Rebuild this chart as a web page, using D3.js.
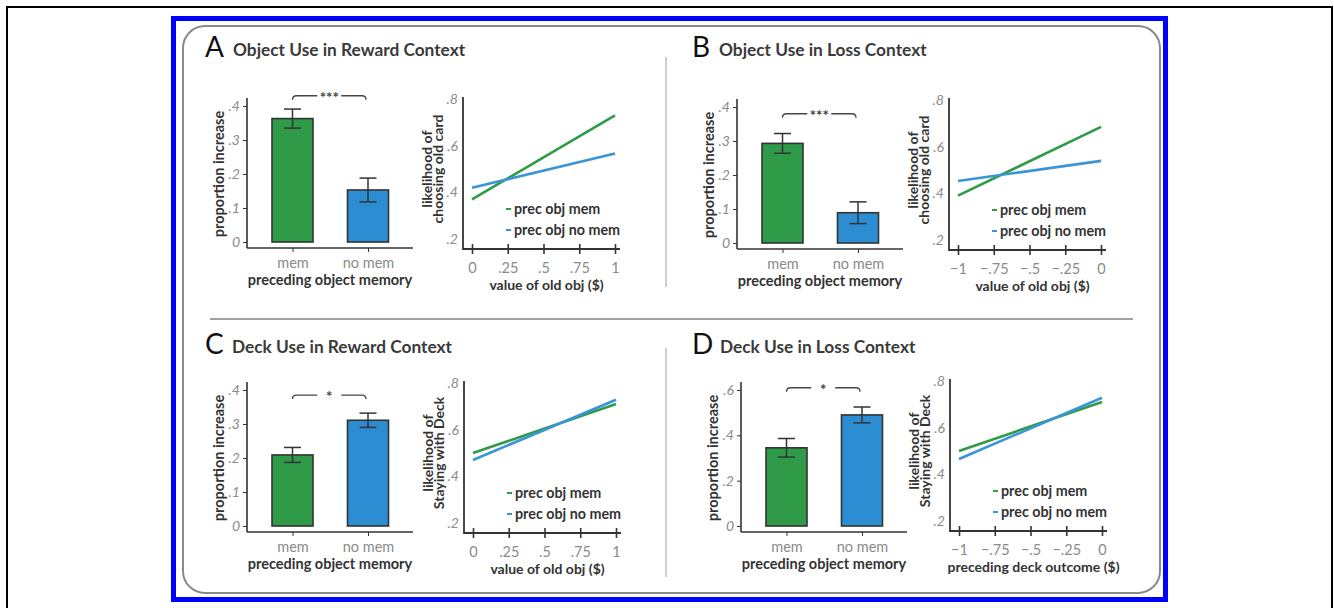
<!DOCTYPE html>
<html>
<head>
<meta charset="utf-8">
<script src="https://cdn.jsdelivr.net/npm/d3@7"></script>
<style>
body { margin: 0; background: #fff; }
text { font-family: Lato, "Open Sans", sans-serif; }
</style>
</head>
<body>
<svg id="fig"></svg>
<script>
// ---- data ----
const letters = ['A', 'B', 'C', 'D']
const titles = ['Object Use in Reward Context', 'Object Use in Loss Context',
                'Deck Use in Reward Context', 'Deck Use in Loss Context']
const barCats = ['mem', 'no mem']
const barMeans = [[0.363, 0.153], [0.293, 0.089], [0.209, 0.311], [0.345, 0.490]]
const barErrs = [[0.028, 0.035], [0.029, 0.032], [0.022, 0.021], [0.041, 0.035]]
const barMax = [0.4, 0.4, 0.4, 0.6]
const barTicks = [[0, .1, .2, .3, .4], [0, .1, .2, .3, .4], [0, .1, .2, .3, .4], [0, .2, .4, .6]]
const sigLabels = ['***', '***', '*', '*']
const sigLevel = [0.43, 0.38, 0.385, 0.61]

const xDomains = [[0, 1], [-1, 0], [0, 1], [-1, 0]]
const xTicksPos = [0, .25, .5, .75, 1]
const xTicksNeg = [-1, -.75, -.5, -.25, 0]
const xLabelsPos = ['0', '.25', '.5', '.75', '1']
const xLabelsNeg = ['\u22121', '\u2212.75', '\u2212.5', '\u2212.25', '0']
const lineYTicks = [.2, .4, .6, .8]
const lineYLabels = ['.2', '.4', '.6', '.8']
// line values at the left and right end of the x domain
const memLine = [[0.37, 0.73], [0.39, 0.685], [0.50, 0.71], [0.50, 0.71]]
const noMemLine = [[0.42, 0.566], [0.453, 0.539], [0.47, 0.728], [0.466, 0.728]]
const seriesNames = ['prec obj mem', 'prec obj no mem']
const lineYTitles = [['likelihood of', 'choosing old card'], ['likelihood of', 'choosing old card'],
                     ['likelihood of', 'Staying with Deck'], ['likelihood of', 'Staying with Deck']]
const lineXTitles = ['value of old obj ($)', 'value of old obj ($)',
                     'value of old obj ($)', 'preceding deck outcome ($)']

// ---- layout ----
const W = 1334, H = 608
const green = '#2f9a48', blue = '#2d8dd3'
const lineGreen = '#2e9b47', lineBlue = '#3a95d8'
const dark = '#333', tickGrey = '#8a8a8a', labelCol = '#333'

const barDx = [0, 490, 0, 494], barDy = [0, 1, 284, 284]
const lineDx = [0, 486, 1, 487], lineDy = [0, 1, 284, 282]
const letterX = [205, 692, 205, 692], titleX = [233, 719, 232, 720], titleY = [57, 57, 354, 354]

let svg = d3.select('#fig').attr('width', W).attr('height', H)

svg.append('rect').attr('width', W).attr('height', H).attr('fill', '#fff')
// outer black frame (bottom edge is off the picture)
svg.append('rect').attr('x', 7).attr('y', 7).attr('width', 1325).attr('height', 640)
  .attr('fill', 'none').attr('stroke', '#000').attr('stroke-width', 2)
// blue frame
svg.append('rect').attr('x', 173.5).attr('y', 18.5).attr('width', 992).attr('height', 581)
  .attr('fill', 'none').attr('stroke', '#0000ff').attr('stroke-width', 5)
// rounded grey panel
svg.append('rect').attr('x', 183).attr('y', 26).attr('width', 977).attr('height', 567)
  .attr('rx', 22).attr('fill', '#fff').attr('stroke', '#8a8a8a').attr('stroke-width', 2)

// dividers
svg.append('line').attr('x1', 210).attr('x2', 1133).attr('y1', 319).attr('y2', 319)
  .attr('stroke', '#a0a0a0').attr('stroke-width', 2)
svg.append('line').attr('x1', 666).attr('x2', 666).attr('y1', 57).attr('y2', 287)
  .attr('stroke', '#b0b0b0').attr('stroke-width', 1.2)
svg.append('line').attr('x1', 666).attr('x2', 666).attr('y1', 348).attr('y2', 577)
  .attr('stroke', '#b0b0b0').attr('stroke-width', 1.2)

function drawPanel(p) {
  // title
  svg.append('text').attr('x', letterX[p]).attr('y', titleY[p])
    .attr('font-size', 28).attr('fill', '#111').text(letters[p])
  svg.append('text').attr('x', titleX[p]).attr('y', titleY[p] - 1)
    .attr('font-size', 17.3).attr('font-weight', 'bold').attr('fill', '#3a3a3a')
    .text(titles[p])

  // ---------- bar chart ----------
  let g = svg.append('g').attr('transform', `translate(${barDx[p]},${barDy[p]})`)
  let y = d3.scaleLinear().domain([0, barMax[p]]).range([242, 106])
  let x = d3.scalePoint().domain(barCats).range([292.5, 368])
  let bw = 41

  let yAx = g.append('g').attr('transform', 'translate(247,0)')
    .call(d3.axisLeft(y).tickValues(barTicks[p]).tickSize(4).tickPadding(3)
      .tickFormat(d => d == 0 ? '0' : d3.format('.1f')(d).replace(/^0/, '')))
  yAx.select('.domain').remove()
  yAx.selectAll('line').attr('stroke', dark)
  yAx.selectAll('text').attr('fill', tickGrey).attr('font-size', 14).attr('font-style', 'italic')
    .attr('font-family', 'Lato, sans-serif')

  let xAx = g.append('g').attr('transform', 'translate(0,248)')
    .call(d3.axisBottom(x).tickSize(4).tickPadding(6))
  xAx.select('.domain').remove()
  xAx.selectAll('line').attr('stroke', dark)
  xAx.selectAll('text').attr('fill', tickGrey).attr('font-size', 14.5).attr('font-family', 'Lato, sans-serif')

  g.append('line').attr('x1', 247).attr('x2', 247).attr('y1', y(0) + 6).attr('y2', y(barMax[p]) - 8)
    .attr('stroke', dark).attr('stroke-width', 1.6)
  g.append('line').attr('x1', 247).attr('x2', 413).attr('y1', y(0) + 6).attr('y2', y(0) + 6)
    .attr('stroke', dark).attr('stroke-width', 1.6)

  let bars = barCats.map((c, i) => ({cat: c, mean: barMeans[p][i], err: barErrs[p][i]}))
  g.selectAll('.bar').data(bars).enter().append('rect')
    .attr('class', 'bar')
    .attr('x', d => x(d.cat) - bw / 2)
    .attr('width', bw)
    .attr('y', d => y(d.mean))
    .attr('height', d => y(0) - y(d.mean))
    .attr('fill', (d, i) => i == 0 ? green : blue)
    .attr('stroke', dark).attr('stroke-width', 1.6)

  let eb = g.selectAll('.err').data(bars).enter().append('g').attr('class', 'err')
    .attr('stroke', dark).attr('stroke-width', 1.5)
  eb.append('line').attr('x1', d => x(d.cat)).attr('x2', d => x(d.cat))
    .attr('y1', d => y(d.mean - d.err)).attr('y2', d => y(d.mean + d.err))
  eb.append('line').attr('x1', d => x(d.cat) - 8.5).attr('x2', d => x(d.cat) + 8.5)
    .attr('y1', d => y(d.mean + d.err)).attr('y2', d => y(d.mean + d.err))
  eb.append('line').attr('x1', d => x(d.cat) - 8.5).attr('x2', d => x(d.cat) + 8.5)
    .attr('y1', d => y(d.mean - d.err)).attr('y2', d => y(d.mean - d.err))

  // significance bracket
  let sy = y(sigLevel[p]), x0 = x(barCats[0]), x1 = x(barCats[1]) - 2, xm = (x0 + x1) / 2
  g.append('path')
    .attr('d', `M${x0},${sy + 4}Q${x0},${sy} ${x0 + 4},${sy}L${xm - 12},${sy}M${xm + 12},${sy}L${x1 - 4},${sy}Q${x1},${sy} ${x1},${sy + 4}`)
    .attr('fill', 'none').attr('stroke', '#444').attr('stroke-width', 1.4)
  g.append('text').attr('x', xm).attr('y', sy + 7).attr('text-anchor', 'middle')
    .attr('font-size', 15).attr('font-weight', 'bold').attr('fill', '#444').text(sigLabels[p])

  g.append('text').attr('x', 330).attr('y', 285).attr('text-anchor', 'middle')
    .attr('font-size', 14.5).attr('font-weight', 'bold').attr('fill', labelCol)
    .text('preceding object memory')
  g.append('text').attr('transform', `translate(219,${(y(0) + y(barMax[p])) / 2}) rotate(-90)`)
    .attr('dy', '0.35em').attr('text-anchor', 'middle')
    .attr('font-size', 14.5).attr('font-weight', 'bold').attr('fill', labelCol)
    .text('proportion increase')

  // ---------- line chart ----------
  let h = svg.append('g').attr('transform', `translate(${lineDx[p]},${lineDy[p]})`)
  let lx = d3.scaleLinear().domain(xDomains[p]).range([472, 615])
  let ly = d3.scaleLinear().domain([.2, .8]).range([239, 99])
  let neg = xDomains[p][0] < 0
  let tv = neg ? xTicksNeg : xTicksPos, tl = neg ? xLabelsNeg : xLabelsPos

  let lxAx = h.append('g').attr('transform', 'translate(0,249)')
    .call(d3.axisBottom(lx).tickValues(tv).tickSize(5).tickPadding(9)
      .tickFormat((d, i) => tl[i]))
  lxAx.select('.domain').remove()
  lxAx.selectAll('line').attr('y1', -5).attr('stroke', dark).attr('stroke-width', 1.6)
  lxAx.selectAll('text').attr('fill', tickGrey).attr('font-size', 14.5).attr('font-family', 'Lato, sans-serif')

  let lyAx = h.append('g').attr('transform', 'translate(463,0)')
    .call(d3.axisLeft(ly).tickValues(lineYTicks).tickSize(0).tickPadding(5)
      .tickFormat((d, i) => lineYLabels[i]))
  lyAx.select('.domain').remove()
  lyAx.selectAll('text').attr('fill', tickGrey).attr('font-size', 14).attr('font-style', 'italic')
    .attr('font-family', 'Lato, sans-serif')

  h.append('line').attr('x1', 463).attr('x2', 463).attr('y1', 250).attr('y2', 97)
    .attr('stroke', dark).attr('stroke-width', 1.8)
  h.append('line').attr('x1', 463).attr('x2', 620).attr('y1', 249).attr('y2', 249)
    .attr('stroke', dark).attr('stroke-width', 1.8)

  let series = [
    {name: seriesNames[0], color: lineGreen, vals: memLine[p]},
    {name: seriesNames[1], color: lineBlue, vals: noMemLine[p]}
  ]
  let line = d3.line().x(d => lx(d[0])).y(d => ly(d[1]))
  h.selectAll('.fit').data(series).enter().append('path')
    .attr('class', 'fit')
    .attr('d', s => line(xDomains[p].map((xv, i) => [xv, s.vals[i]])))
    .attr('fill', 'none').attr('stroke', s => s.color).attr('stroke-width', 2.6)

  let lg = h.selectAll('.leg').data(series).enter().append('g').attr('class', 'leg')
    .attr('transform', (s, i) => `translate(514,${209 + i * 21})`)
  lg.append('line').attr('x1', -8).attr('x2', -3).attr('stroke', s => s.color).attr('stroke-width', 2)
  lg.append('text').attr('dy', '0.35em').attr('font-size', 14.3).attr('font-weight', 'bold')
    .attr('fill', labelCol).text(s => s.name)

  h.append('text').attr('x', (lx.range()[0] + lx.range()[1]) / 2 + 3).attr('y', 290)
    .attr('text-anchor', 'middle').attr('font-size', 14).attr('font-weight', 'bold')
    .attr('fill', labelCol).text(lineXTitles[p])
  h.selectAll('.ytitle').data(lineYTitles[p]).enter().append('text')
    .attr('class', 'ytitle')
    .attr('transform', (t, i) => `translate(${427 + i * 11.5},169) rotate(-90)`)
    .attr('dy', '0.35em').attr('text-anchor', 'middle')
    .attr('font-size', 14).attr('font-weight', 'bold').attr('fill', labelCol)
    .text(t => t)
}

letters.forEach((l, p) => drawPanel(p))
</script>
</body>
</html>
